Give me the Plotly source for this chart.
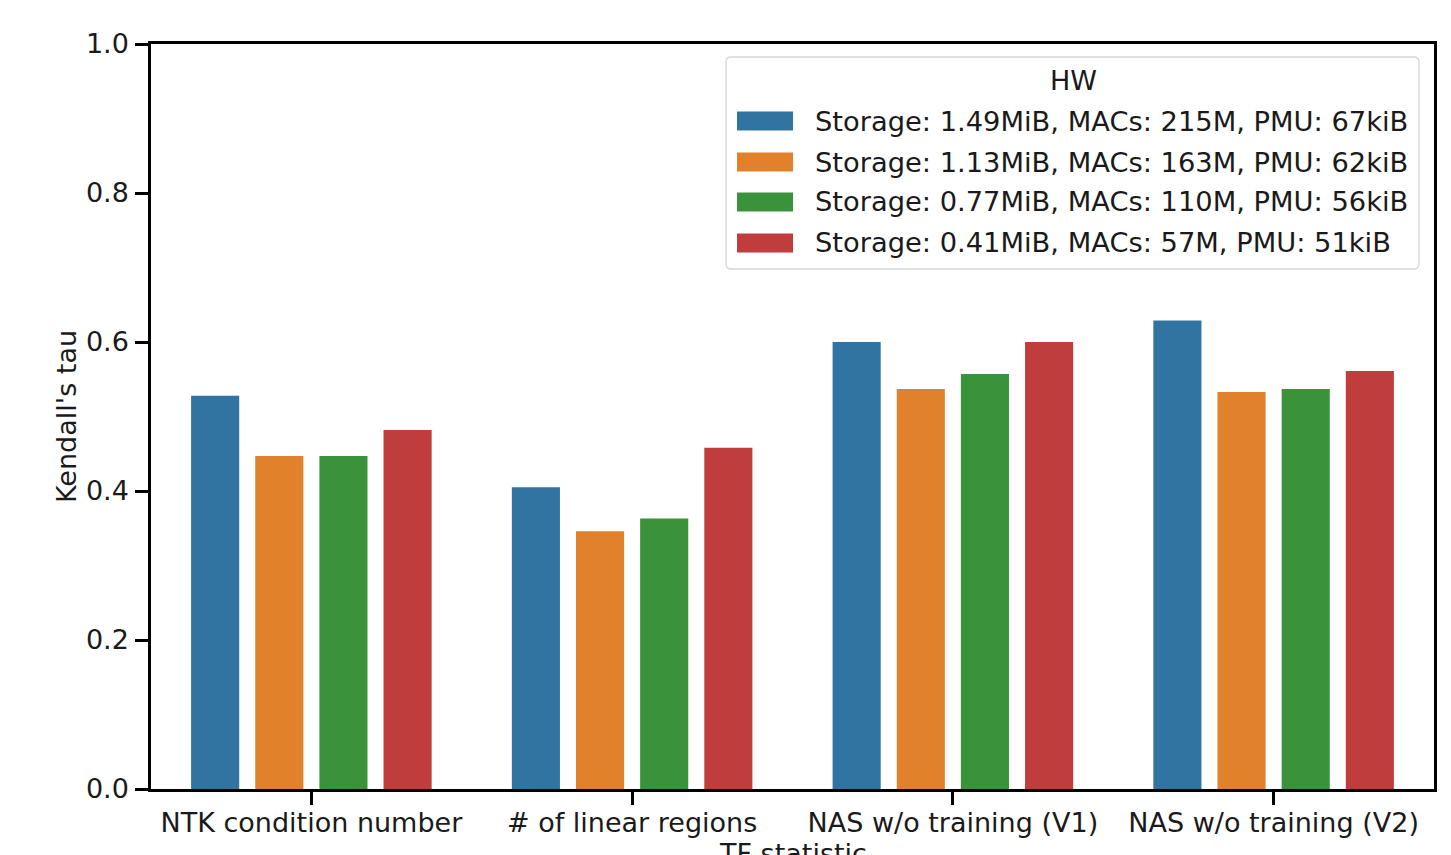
import plotly.graph_objects as go

# Training-free statistics compared across hardware budgets
categories = ["NTK condition number", "# of linear regions",
              "NAS w/o training (V1)", "NAS w/o training (V2)"]
hw_labels = [
    "Storage: 1.49MiB, MACs: 215M, PMU: 67kiB",
    "Storage: 1.13MiB, MACs: 163M, PMU: 62kiB",
    "Storage: 0.77MiB, MACs: 110M, PMU: 56kiB",
    "Storage: 0.41MiB, MACs: 57M, PMU: 51kiB",
]
tau_hw1 = [0.528, 0.405, 0.600, 0.629]
tau_hw2 = [0.447, 0.346, 0.537, 0.533]
tau_hw3 = [0.447, 0.363, 0.557, 0.537]
tau_hw4 = [0.482, 0.458, 0.600, 0.561]
y_ticks = [0.0, 0.2, 0.4, 0.6, 0.8, 1.0]

colors = ["#3274A1", "#E1812C", "#3A923A", "#C03D3E"]
series = [tau_hw1, tau_hw2, tau_hw3, tau_hw4]

FONT = "DejaVu Sans"
TXT = "#1a1a1a"
W, H = 1451, 855
ML, MR, MT, MB = 151, 17, 44, 66
PW, PH = W - ML - MR, H - MT - MB


def px(x):
    return (x - ML) / PW


def py(y):
    return (H - MB - y) / PH


fig = go.Figure()
for vals, name, col in zip(series, hw_labels, colors):
    fig.add_trace(go.Bar(x=categories, y=vals, name=name,
                         marker=dict(color=col, line=dict(width=0)),
                         showlegend=False))

# Legend box drawn in paper coordinates
lx0, lx1, ly0, ly1, r = 726, 1419, 57, 269, 5
x0, x1 = px(lx0), px(lx1)
y0, y1 = py(ly1), py(ly0)
rx, ry = r / PW, r / PH
path = (f"M{x0+rx},{y0} L{x1-rx},{y0} Q{x1},{y0} {x1},{y0+ry} "
        f"L{x1},{y1-ry} Q{x1},{y1} {x1-rx},{y1} L{x0+rx},{y1} "
        f"Q{x0},{y1} {x0},{y1-ry} L{x0},{y0+ry} Q{x0},{y0} {x0+rx},{y0} Z")
shapes = [dict(type="path", path=path, xref="paper", yref="paper",
               fillcolor="rgba(255,255,255,0.85)",
               line=dict(color="#d6d6d6", width=1.3), layer="above")]
annotations = [dict(text="HW", x=px(1073), y=py(80), xref="paper", yref="paper",
                    showarrow=False, xanchor="center", yanchor="middle",
                    font=dict(family=FONT, size=27, color=TXT))]
row_y = [121, 162, 202, 243]
for yy, name, col in zip(row_y, hw_labels, colors):
    shapes.append(dict(type="rect", xref="paper", yref="paper",
                       x0=px(737), x1=px(793), y0=py(yy + 9.5), y1=py(yy - 9.5),
                       fillcolor=col, line=dict(width=0), layer="above"))
    annotations.append(dict(text=name, x=px(813), y=py(yy), xref="paper", yref="paper",
                            showarrow=False, xanchor="left", yanchor="middle",
                            font=dict(family=FONT, size=27.3, color=TXT)))

# x-axis title sits at the bottom edge of the page
annotations.append(dict(text="TF statistic", x=0.5, y=py(836), xref="paper", yref="paper",
                        showarrow=False, xanchor="center", yanchor="top",
                        font=dict(family=FONT, size=27, color=TXT)))

fig.update_layout(
    width=W, height=H,
    margin=dict(l=ML, r=MR, t=MT, b=MB, pad=0, autoexpand=False),
    paper_bgcolor="white", plot_bgcolor="white",
    font=dict(family=FONT, size=27, color=TXT),
    barmode="group", bargap=0.2, bargroupgap=0.25,
    shapes=shapes, annotations=annotations,
)
fig.update_xaxes(
    range=[-0.5, 3.5], showgrid=False, zeroline=False, automargin=False,
    showline=True, linecolor="black", linewidth=2.5, mirror=True,
    ticks="outside", ticklen=13, tickwidth=2.5, tickcolor="black",
    ticklabelstandoff=-5,
    tickfont=dict(family=FONT, size=27, color=TXT),
)
fig.update_yaxes(
    range=[0, 1], tickvals=y_ticks, tickformat=".1f", automargin=False,
    showgrid=False, zeroline=False,
    showline=True, linecolor="black", linewidth=2.5, mirror=True,
    ticks="outside", ticklen=13, tickwidth=2.5, tickcolor="black",
    ticklabelstandoff=1,
    tickfont=dict(family=FONT, size=27, color=TXT),
    title=dict(text="Kendall's tau", font=dict(family=FONT, size=27, color=TXT), standoff=2),
)

fig.write_html("out.html")
